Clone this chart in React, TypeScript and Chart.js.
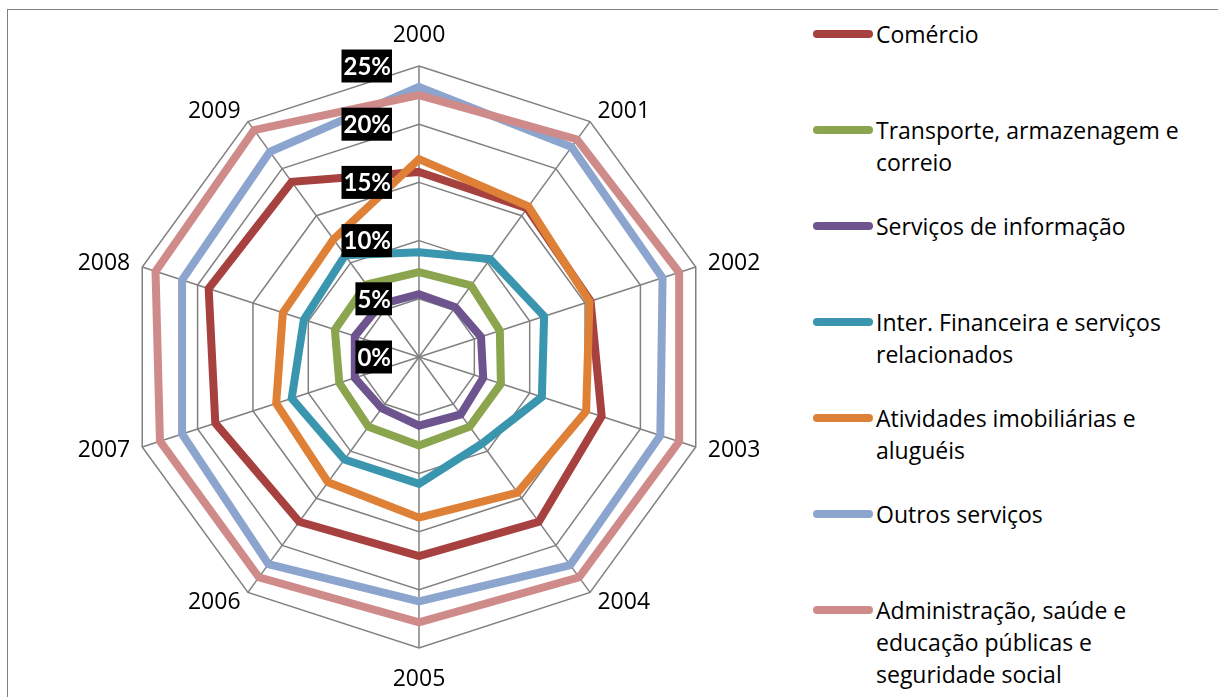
import React, { useEffect, useRef } from 'react';
import { Chart, registerables } from 'chart.js';

Chart.register(...registerables);

// ---- Data ----
const years = ['2000', '2001', '2002', '2003', '2004', '2005', '2006', '2007', '2008', '2009'];

const seriesNames = [
  'Comércio',
  'Transporte, armazenagem e\ncorreio',
  'Serviços de informação',
  'Inter. Financeira e serviços\nrelacionados',
  'Atividades imobiliárias e\naluguéis',
  'Outros serviços',
  'Administração, saúde e\neducação públicas e\nseguridade social',
];

const comercio = [15.9, 15.8, 15.5, 16.5, 17.5, 17.1, 17.5, 18.4, 19.0, 18.6];
const transporte = [7.3, 7.6, 7.3, 7.4, 7.4, 7.6, 7.4, 7.2, 7.6, 7.7];
const servicosInformacao = [5.4, 5.3, 5.6, 5.8, 6.1, 5.9, 5.45, 5.8, 5.8, 5.6];
const interFinanceira = [9.0, 10.4, 11.3, 11.1, 9.2, 10.9, 10.9, 11.5, 10.4, 10.8];
const atividadesImobiliarias = [17.0, 16.0, 15.4, 15.1, 14.4, 13.8, 13.3, 12.9, 12.3, 12.5];
const outrosServicos = [23.2, 22.3, 22.0, 21.8, 22.1, 21.0, 22.0, 21.4, 21.4, 21.8];
const administracao = [22.5, 23.1, 23.5, 23.5, 23.4, 22.8, 23.4, 23.4, 23.8, 24.1];

const seriesValues = [
  comercio,
  transporte,
  servicosInformacao,
  interFinanceira,
  atividadesImobiliarias,
  outrosServicos,
  administracao,
];

const seriesColors = ['#A7413F', '#8AA54D', '#6E548E', '#3A95AF', '#DF8037', '#8CA5CE', '#CF8B8A'];

const axisMin = 0;
const axisMax = 25;
const axisStep = 5;

const FONT = '"Open Sans", "DejaVu Sans", sans-serif';
const TICK_FONT = 'Lato, "Open Sans", sans-serif';
const GRID = '#808080';

const excelLabels = {
  id: 'excelLabels',
  afterDatasetsDraw(chart: any) {
    const scale = chart.scales.r;
    const ctx = chart.ctx;
    ctx.save();
    // category labels
    ctx.font = `23px ${FONT}`;
    ctx.fillStyle = '#000';
    ctx.textBaseline = 'middle';
    years.forEach((lab, i) => {
      const p = scale.getPointPosition(i, scale.drawingArea);
      const ang = p.angle + Math.PI / 2;
      const s = Math.sin(ang);
      const c = Math.cos(ang);
      if (Math.abs(s) < 0.01) {
        ctx.textAlign = 'center';
        ctx.fillText(lab, p.x, p.y - c * 31);
      } else {
        ctx.textAlign = s > 0 ? 'left' : 'right';
        ctx.fillText(lab, p.x + s * 12.6, p.y - c * 13);
      }
    });
    // value axis labels
    ctx.font = `bold 24px ${TICK_FONT}`;
    ctx.textAlign = 'right';
    scale.ticks.forEach((t: any) => {
      const d = scale.getDistanceFromCenterForValue(t.value);
      const y = scale.yCenter - d;
      const label = String(t.label);
      const w = ctx.measureText(label).width;
      const right = scale.xCenter - 27;
      ctx.fillStyle = '#000';
      ctx.fillRect(right - w - 3, y - 16.5, w + 3, 33);
      ctx.fillStyle = '#fff';
      ctx.fillText(label, right - 1, y + 1);
    });
    ctx.restore();
  },
};

function RadarChart() {
  const ref = useRef<HTMLCanvasElement | null>(null);
  useEffect(() => {
    if (!ref.current) return;
    const chart = new Chart(ref.current, {
      type: 'radar',
      data: {
        labels: years,
        datasets: seriesValues.map((vals, i) => ({
          label: seriesNames[i].replace(/\n/g, ' '),
          data: vals,
          borderColor: seriesColors[i],
          backgroundColor: seriesColors[i],
          borderWidth: 8,
          pointRadius: 0,
          pointHoverRadius: 0,
          fill: false,
          tension: 0,
          clip: false,
          order: seriesValues.length - 1 - i,
          borderJoinStyle: 'miter',
        })),
      },
      options: {
        responsive: false,
        animation: false,
        layout: { padding: { left: 128, top: 66, right: 90, bottom: 49 } },
        plugins: {
          legend: { display: false },
          tooltip: { enabled: false },
        },
        scales: {
          r: {
            min: axisMin,
            max: axisMax,
            ticks: {
              display: false,
              stepSize: axisStep,
              callback: (v: any) => `${v}%`,
            },
            pointLabels: { display: false },
            grid: { color: GRID, lineWidth: 1.5, circular: false },
            angleLines: { color: GRID, lineWidth: 1.5 },
          },
        },
      },
      plugins: [excelLabels],
    } as any);
    return () => chart.destroy();
  }, []);
  return (
    <canvas
      ref={ref}
      width={800}
      height={697}
      style={{ position: 'absolute', left: 0, top: 0, width: 800, height: 697 }}
    />
  );
}

function Legend() {
  const spacing = 96.05;
  const firstTop = 17.8;
  return (
    <>
      {seriesNames.map((name, i) => {
        const top = firstTop + i * spacing;
        return (
          <React.Fragment key={name}>
            <div
              style={{
                position: 'absolute',
                left: 813,
                top: top + 11.9,
                width: 60,
                height: 8,
                borderRadius: 4,
                background: seriesColors[i],
              }}
            />
            <div
              style={{
                position: 'absolute',
                left: 876,
                top,
                fontFamily: FONT,
                fontSize: 23,
                lineHeight: '32px',
                color: '#000',
                whiteSpace: 'pre',
              }}
            >
              {name}
            </div>
          </React.Fragment>
        );
      })}
    </>
  );
}

export default function App() {
  return (
    <div
      style={{
        position: 'absolute',
        left: 0,
        top: 0,
        width: 1218,
        height: 697,
        overflow: 'hidden',
        background: '#fff',
      }}
    >
      <div
        style={{
          position: 'absolute',
          left: 7,
          top: 9,
          right: -10,
          bottom: -10,
          borderLeft: '1.5px solid #808080',
          borderTop: '1.5px solid #808080',
        }}
      />
      <RadarChart />
      <Legend />
    </div>
  );
}
